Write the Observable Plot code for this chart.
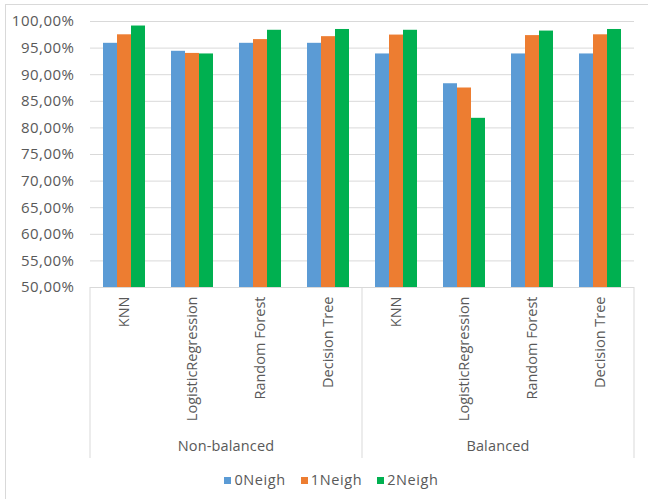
<!DOCTYPE html>
<html>
<head>
<meta charset="utf-8">
<script src="https://cdn.jsdelivr.net/npm/d3@7"></script>
<script src="https://cdn.jsdelivr.net/npm/@observablehq/plot@0.6"></script>
<style>
  html, body { margin: 0; padding: 0; background: #fff; overflow: hidden; }
  #frame { position: relative; width: 648px; height: 499px; overflow: hidden; font-family: "Open Sans", sans-serif; color: #595959; }
  #box { position: absolute; left: 5px; top: 4px; width: 660px; height: 510px; border: 1px solid #d9d9d9; box-sizing: border-box; }
  #chart { position: absolute; left: 0; top: 0; }
  #legend { position: absolute; left: 5px; top: 470px; width: 653px; display: flex; justify-content: center; gap: 15px; font-size: 14.5px; letter-spacing: 0.6px; line-height: 20px; }
  #legend .item { display: flex; align-items: center; }
  #legend .swatch { width: 7px; height: 7px; margin-right: 3px; }
  .ytick text { letter-spacing: 0.5px; }
</style>
</head>
<body>
<div id="frame">
  <div id="box"></div>
  <div id="chart"></div>
  <div id="legend"></div>
</div>
<script>
// Accuracy per classifier, with and without class balancing
const groups = ["Non-balanced", "Balanced"];
const models = ["KNN", "LogisticRegression", "Random Forest", "Decision Tree"];
const series = ["0Neigh", "1Neigh", "2Neigh"];
const colors = ["#5B9BD5", "#ED7D31", "#00B050"];

// Non-balanced data, one value per model
const nb0Neigh = [0.959, 0.944, 0.959, 0.959];
const nb1Neigh = [0.975, 0.940, 0.966, 0.9715];
const nb2Neigh = [0.9915, 0.939, 0.9835, 0.985];

// Balanced data, one value per model
const b0Neigh = [0.939, 0.883, 0.939, 0.939];
const b1Neigh = [0.9745, 0.875, 0.9735, 0.975];
const b2Neigh = [0.9835, 0.818, 0.982, 0.985];

const yTicks = [0.50, 0.55, 0.60, 0.65, 0.70, 0.75, 0.80, 0.85, 0.90, 0.95, 1.00];
const yFloor = 0.5;

const valuesByGroup = {
  "Non-balanced": [nb0Neigh, nb1Neigh, nb2Neigh],
  "Balanced": [b0Neigh, b1Neigh, b2Neigh]
};

const rows = [];
const keys = [];
for (const g of groups) {
  models.forEach((m, i) => {
    const key = g + "|" + m;
    keys.push(key);
    series.forEach((s, j) => {
      rows.push({key, group: g, model: m, series: s, value: valuesByGroup[g][j][i]});
    });
  });
}

const pct = d3.formatLocale({decimal: ",", thousands: ".", grouping: [3], currency: ["", "€"]}).format(".2%");

const plot = Plot.plot({
  width: 648,
  height: 462,
  marginLeft: 88,
  marginRight: 12,
  marginTop: 21,
  marginBottom: 175,
  style: {fontFamily: "'Open Sans', sans-serif", fontSize: "14.5px", color: "#595959", background: "transparent", overflow: "visible"},
  fx: {domain: keys, padding: 0, label: null},
  x: {domain: series, paddingInner: 0, paddingOuter: 0.78, axis: null},
  y: {domain: [yFloor, 1], label: null},
  color: {domain: series, range: colors},
  marks: [
    Plot.ruleY(yTicks, {stroke: "#d9d9d9", strokeWidth: 1}),
    Plot.barY(rows, {fx: "key", x: "series", y1: yFloor, y2: "value", fill: "series"}),
    Plot.axisY(yTicks, {tickSize: 0, tickPadding: 16, tickFormat: pct, fontSize: 15, label: null, className: "ytick"}),
    Plot.axisFx({anchor: "bottom", tickRotate: -90, tickSize: 0, tickPadding: 9, fontSize: 14.5, label: null, tickFormat: k => k.split("|")[1]})
  ]
});

document.getElementById("chart").appendChild(plot);

// Group separators and group labels under the category axis
const fx = plot.scale("fx");
const yScale = plot.scale("y");
const axisY0 = yScale.apply(yFloor);
const svg = d3.select(plot);
const sepBottom = 458;
const edges = [];
groups.forEach((g, gi) => {
  const gKeys = keys.filter(k => k.startsWith(g + "|"));
  const x0 = fx.apply(gKeys[0]);
  const x1 = fx.apply(gKeys[gKeys.length - 1]) + fx.bandwidth;
  edges.push(x0);
  if (gi === groups.length - 1) edges.push(x1);
  svg.append("text")
    .attr("x", (x0 + x1) / 2)
    .attr("y", 447)
    .attr("text-anchor", "middle")
    .attr("dominant-baseline", "middle")
    .attr("fill", "#595959")
    .attr("font-size", 14.5)
    .attr("letter-spacing", 0.15)
    .text(g);
});
svg.selectAll("line.sep").data(edges).join("line")
  .attr("class", "sep")
  .attr("x1", d => d).attr("x2", d => d)
  .attr("y1", axisY0).attr("y2", sepBottom)
  .attr("stroke", "#d9d9d9");

// Legend
const legend = d3.select("#legend");
series.forEach((s, i) => {
  const item = legend.append("div").attr("class", "item");
  item.append("div").attr("class", "swatch").style("background", colors[i]);
  item.append("span").text(s);
});
</script>
</body>
</html>
